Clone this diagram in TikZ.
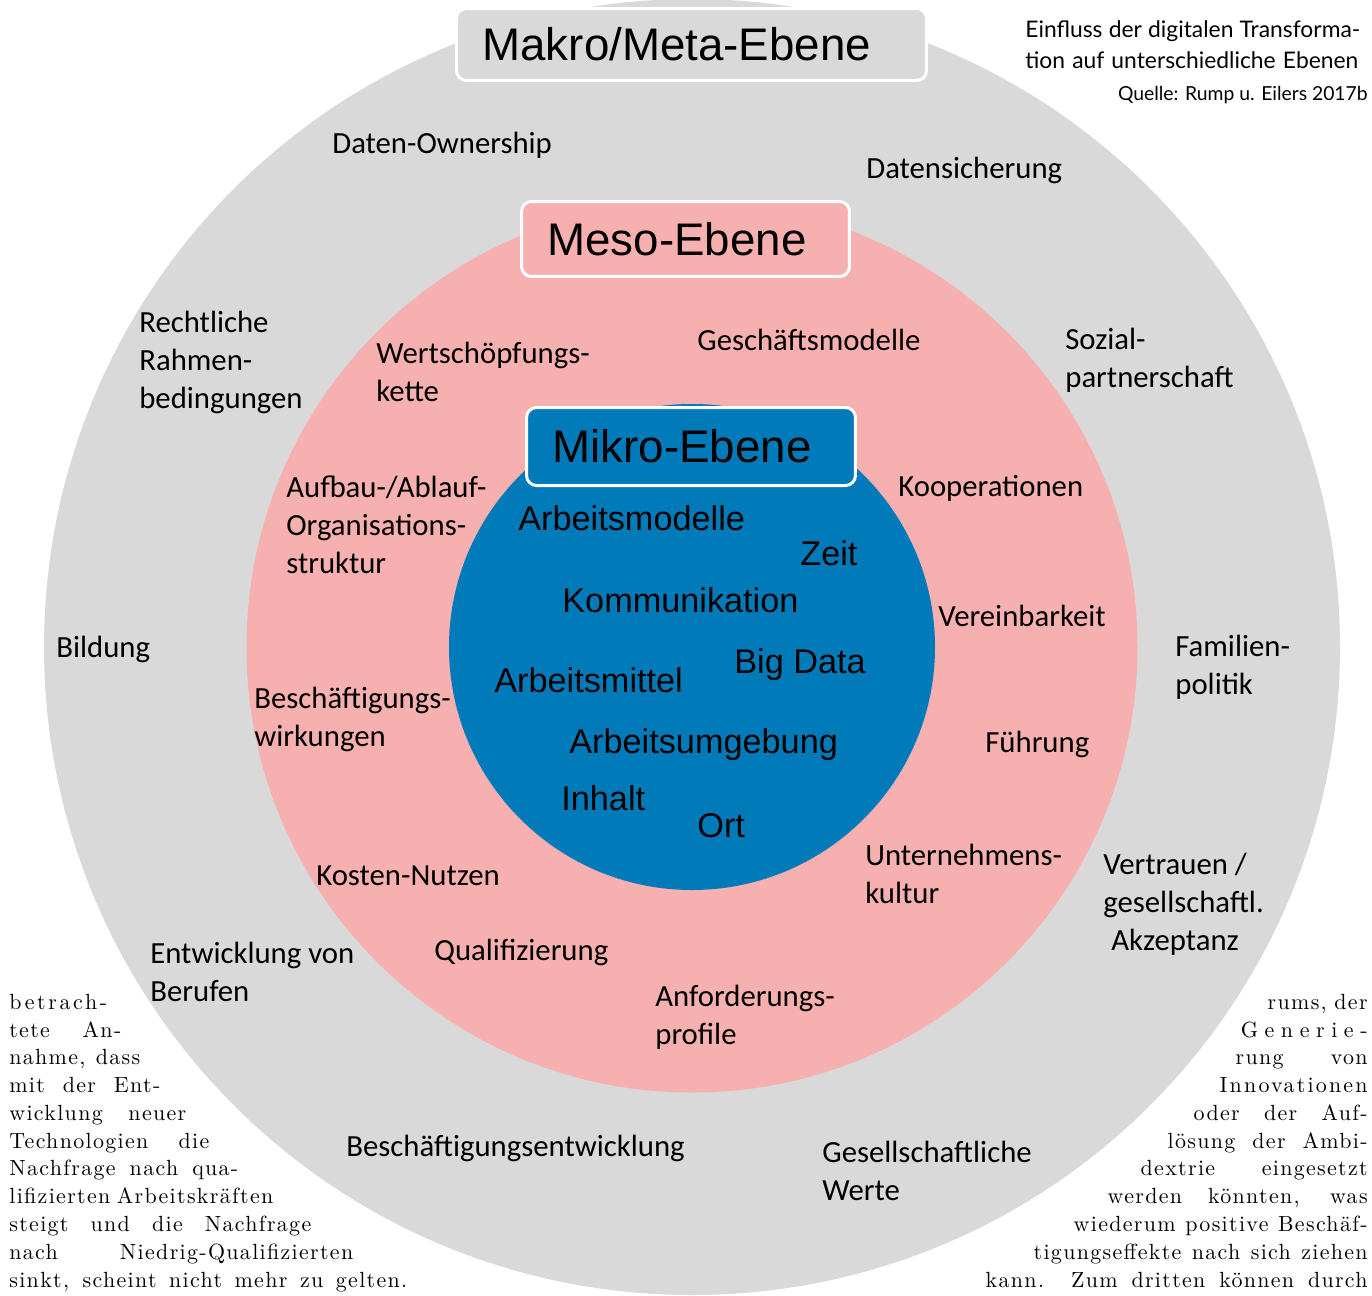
\documentclass[tikz,border=0pt]{standalone}
\usepackage{fontspec}
\usepackage{tikz}
\usetikzlibrary{positioning}
\newfontfamily\calibfont{Carlito}
\newfontfamily\arialfont{Liberation Sans}
\newfontfamily\gillfont{Lato}
\newfontfamily\fliessfont{lmroman10-regular.otf}[LetterSpace=6]
\definecolor{makrograu}{RGB}{217,217,217}
\definecolor{mesorosa}{RGB}{246,176,176}
\definecolor{mikroblau}{RGB}{0,122,185}
\newcommand{\zeile}[2]{\makebox[#1cm][s]{#2}}
\begin{document}
\begin{tikzpicture}[x=0.02cm,y=-0.02cm,
  lbl/.style={font=\calibfont\fontsize{17.5}{21.6}\selectfont,anchor=base west,inner sep=0pt,align=left},
  inlbl/.style={font=\arialfont\fontsize{19.5}{23}\selectfont,anchor=base west,inner sep=0pt},
  ebox/.style={draw=white,line width=0.06cm,rounded corners=0.2cm,inner xsep=0.52cm,inner ysep=0pt,
    align=left,font=\arialfont\fontsize{26}{30}\selectfont},
  fliess/.style={font=\fliessfont\fontsize{12.5}{15.8}\selectfont,inner sep=0pt}]
  \useasboundingbox (0,0) rectangle (1372,1295);
  \fill[makrograu] (692,647) circle (648);
  \fill[mesorosa] (692,647) circle (445.5);
  \fill[mikroblau] (692,647) circle (243);
  \node[ebox,fill=makrograu,text width=8.36cm,minimum height=1.44cm] (makro) at (691.5,44.5) {Makro/Meta-Ebene};
  \node[ebox,fill=mesorosa,text width=5.52cm,minimum height=1.5cm] (meso) at (685.5,239) {Meso-Ebene};
  \node[ebox,fill=mikroblau,text width=5.54cm,minimum height=1.56cm] (mikro) at (691,446.5) {Mikro-Ebene};

  % Makro/Meta-Ebene
  \node[lbl] (daten) at (332,153) {Daten-Ownership};
  \node[lbl] (sicherung) at (866,178) {Datensicherung};
  \node[lbl] (recht) at (139,408) {Rechtliche\\Rahmen-\\bedingungen};
  \node[lbl] (sozial) at (1065,387) {Sozial-\\partnerschaft};
  \node[lbl] (bildung) at (56,657) {Bildung};
  \node[lbl] (familie) at (1175,694) {Familien-\\politik};
  \node[lbl] (vertrauen) at (1103,950) {Vertrauen /\\gesellschaftl.\\\hspace*{0.16cm}Akzeptanz};
  \node[lbl] (berufe) at (150,1001) {Entwicklung von\\Berufen};
  \node[lbl] (beschentw) at (346,1156) {Beschäftigungsentwicklung};
  \node[lbl] (werte) at (822,1200) {Gesellschaftliche\\Werte};

  % Meso-Ebene
  \node[lbl] (wert) at (376,401) {Wertschöpfungs-\\kette};
  \node[lbl] (geschaeft) at (697,350) {Geschäftsmodelle};
  \node[lbl] (aufbau) at (286,573) {Aufbau-/Ablauf-\\Organisations-\\struktur};
  \node[lbl] (koop) at (898,496) {Kooperationen};
  \node[lbl] (verein) at (938,626) {Vereinbarkeit};
  \node[lbl] (beschwirk) at (254,746) {Beschäftigungs-\\wirkungen};
  \node[lbl] (fuehrung) at (985,752) {Führung};
  \node[lbl] (kosten) at (316,885) {Kosten-Nutzen};
  \node[lbl] (kultur) at (865,903) {Unternehmens-\\kultur};
  \node[lbl] (quali) at (434,960) {Qualifizierung};
  \node[lbl] (anford) at (655,1044) {Anforderungs-\\profile};

  % Mikro-Ebene
  \node[inlbl] (modelle) at (518,530) {Arbeitsmodelle};
  \node[inlbl] (zeit) at (800,565) {Zeit};
  \node[inlbl] (komm) at (562,612) {Kommunikation};
  \node[inlbl] (bigdata) at (734,673) {Big Data};
  \node[inlbl] (mittel) at (494,692) {Arbeitsmittel};
  \node[inlbl] (umgebung) at (569,753) {Arbeitsumgebung};
  \node[inlbl] (inhalt) at (561,810) {Inhalt};
  \node[inlbl] (ort) at (697,837) {Ort};

  \node[anchor=base west,inner sep=0pt,align=left,font=\gillfont\fontsize{13}{17.6}\selectfont] (titel) at (1025,68)
    {\zeile{6.7}{Einfluss der digitalen Transforma-}\\\zeile{6.66}{tion auf unterschiedliche Ebenen}};
  \node[anchor=base east,inner sep=0pt,font=\gillfont\fontsize{11}{14}\selectfont] (quelle) at (1368,100) {Quelle: Rump u. Eilers 2017b};

  \node[fliess,anchor=base west,align=left] (links) at (9,1287)
    {{\addfontfeatures{LetterSpace=12}betrach-}\\\zeile{2.24}{tete An-}\\\zeile{2.62}{nahme, dass}\\\zeile{3.02}{mit der Ent-}\\
     \zeile{3.54}{wicklung neuer}\\\zeile{4.0}{Technologien die}\\\zeile{4.58}{Nachfrage nach qua-}\\
     \zeile{5.28}{lifizierten Arbeitskräften}\\\zeile{6.04}{steigt und die Nachfrage}\\
     \zeile{6.88}{nach Niedrig-Qualifizierten}\\\zeile{7.96}{sinkt, scheint nicht mehr zu gelten.}};
  \node[fliess,anchor=base east,align=right] (rechts) at (1368,1287)
    {\zeile{2.0}{rums, der}\\{\addfontfeatures{LetterSpace=30}Generie-}\\\zeile{2.64}{rung von}\\{\addfontfeatures{LetterSpace=10}Innovationen}\\
     \zeile{3.48}{oder der Auf-}\\\zeile{4.0}{lösung der Ambi-}\\\zeile{4.54}{dextrie eingesetzt}\\\zeile{5.2}{werden könnten, was}\\
     \zeile{5.88}{wiederum positive Beschäf-}\\\zeile{6.68}{tigungseffekte nach sich ziehen}\\
     \zeile{7.64}{kann. Zum dritten können durch}};
\end{tikzpicture}
\end{document}
